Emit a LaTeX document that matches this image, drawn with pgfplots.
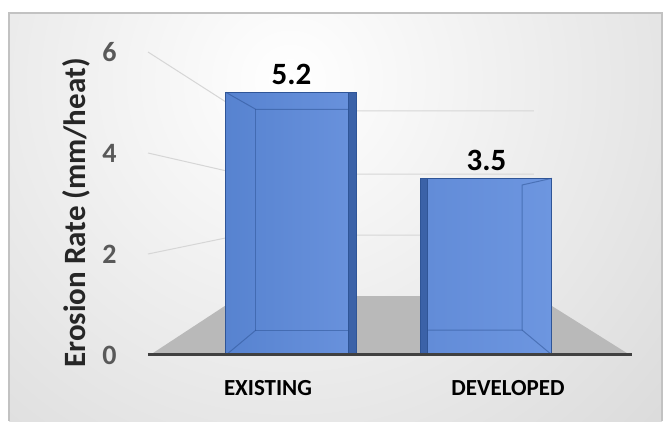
\documentclass[border=0pt]{standalone}
\usepackage{pgfplots}
\pgfplotsset{compat=1.18}
\usepackage{fontspec}
\setmainfont{Carlito}
\definecolor{frontL}{HTML}{5783D0}
\definecolor{frontR}{HTML}{6891DC}
\definecolor{frontL2}{HTML}{628CD8}
\definecolor{frontR2}{HTML}{6D96E0}
\definecolor{side}{HTML}{3B62A8}
\definecolor{edge}{HTML}{2F5597}
\definecolor{floorc}{HTML}{B9B9B9}
\definecolor{gridc}{HTML}{D6D6D6}
\definecolor{tickc}{HTML}{595959}
\definecolor{axisc}{HTML}{404040}
\definecolor{bgout}{HTML}{C4C4C4}
\definecolor{framec}{HTML}{C2C2C2}
\begin{document}
\begin{tikzpicture}[x=1pt,y=1pt]
\useasboundingbox (0,0) rectangle (665,421);
\fill[white] (0,0) rectangle (665,421);
\begin{scope}
\clip (9,0) rectangle (662,408);
\shade[inner color=white, outer color=bgout] (290,341) circle (840);
\end{scope}
\draw[framec, line width=2pt] (9,0) -- (9,408) -- (662,408) -- (662,0);
\begin{axis}[
  at={(148pt,66pt)}, anchor=south west,
  scale only axis, width=484pt, height=303pt,
  xmin=-0.7359, xmax=1.7462, ymin=0, ymax=6,
  axis on top,
  axis x line*=bottom, axis y line*=left,
  x axis line style={line width=3pt, color=axisc, -},
  y axis line style={draw=none},
  major tick length=0pt,
  ytick={0,2,4,6},
  xtick={-0.1205,1.1103},
  xticklabels={EXISTING,DEVELOPED},
  yticklabel style={font=\fontsize{28}{28}\selectfont\bfseries, color=tickc, anchor=east, xshift=-28pt},
  xticklabel style={font=\fontsize{23}{23}\selectfont\bfseries, color=black, anchor=base, yshift=-40pt},
  /pgf/number format/assume math mode=true,
  clip=false,
]
% floor
\addplot[fill=floorc, draw=none] coordinates {(-0.7256,0) (1.7359,0) (1.2538,1.168) (-0.2641,1.168)} -- cycle;
% wall gridlines
\addplot[gridc, line width=1pt] coordinates {(-0.7359,6.0) (-0.2641,4.832) (1.2436,4.832)};
\addplot[gridc, line width=1pt] coordinates {(-0.7359,4.0) (-0.2641,3.584) (1.2436,3.584)};
\addplot[gridc, line width=1pt] coordinates {(-0.7359,2.0) (-0.2641,2.376) (1.2436,2.376)};
% bars (side depth)
\addplot[ybar, bar width=131pt, bar shift=0pt, fill=side, draw=edge, line width=1pt,
  nodes near coords, point meta=y,
  every node near coord/.append style={font=\fontsize{31}{31}\selectfont\bfseries, color=black, anchor=south, yshift=4pt},
  /pgf/number format/.cd, fixed, precision=1, fixed zerofill]
  coordinates {(0,5.2) (1,3.5)};
% bars (front faces)
\addplot[ybar, bar width=123pt, bar shift=-4pt, left color=frontL, right color=frontR, draw=edge, line width=1pt] coordinates {(0,5.2)};
\addplot[ybar, bar width=124pt, bar shift=3.5pt, left color=frontL2, right color=frontR2, draw=edge, line width=1pt] coordinates {(1,3.5)};
% inner (back) edges of the transparent boxes
\addplot[edge, opacity=0.55, line width=1pt] coordinates {(-0.3359,5.2) (-0.1821,4.863) (0.2949,4.863)};
\addplot[edge, opacity=0.55, line width=1pt] coordinates {(-0.1821,4.863) (-0.1821,0.495) (0.2949,0.495)};
\addplot[edge, opacity=0.55, line width=1pt] coordinates {(-0.1821,0.495) (-0.3359,0)};
\addplot[edge, opacity=0.55, line width=1pt] coordinates {(1.3359,3.5) (1.1821,3.366) (1.1821,0.495) (0.7000,0.495)};
\addplot[edge, opacity=0.55, line width=1pt] coordinates {(1.1821,0.495) (1.3359,0)};
\end{axis}
\node[rotate=90, font=\fontsize{31}{31}\selectfont\bfseries, color=black!85] at (76,208) {Erosion Rate (mm/heat)};
\end{tikzpicture}
\end{document}
